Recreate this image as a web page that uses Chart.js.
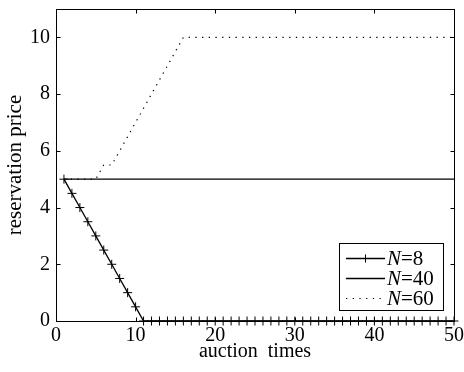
<!DOCTYPE html>
<html>
<head>
<meta charset="utf-8">
<script src="https://cdn.jsdelivr.net/npm/chart.js@4/dist/chart.umd.min.js"></script>
<style>
  html, body { margin: 0; padding: 0; background: #fff; }
  #wrap { width: 464px; height: 372px; }
</style>
</head>
<body>
<div id="wrap"><canvas id="priceChart" width="464" height="372"></canvas></div>
<script>
// auction times (x)
const auctionTimes = [1, 2, 3, 4, 5, 6, 7, 8, 9, 10, 11, 12, 13, 14, 15, 16, 17, 18, 19, 20,
    21, 22, 23, 24, 25, 26, 27, 28, 29, 30, 31, 32, 33, 34, 35, 36, 37, 38, 39, 40,
    41, 42, 43, 44, 45, 46, 47, 48, 49, 50];

// reservation price for each N
const priceN8 = [5, 4.5, 4, 3.5, 3, 2.5, 2, 1.5, 1, 0.5, 0, 0, 0, 0, 0, 0, 0, 0, 0, 0,
    0, 0, 0, 0, 0, 0, 0, 0, 0, 0, 0, 0, 0, 0, 0, 0, 0, 0, 0, 0,
    0, 0, 0, 0, 0, 0, 0, 0, 0, 0];
const priceN40 = [5, 5, 5, 5, 5, 5, 5, 5, 5, 5, 5, 5, 5, 5, 5, 5, 5, 5, 5, 5,
    5, 5, 5, 5, 5, 5, 5, 5, 5, 5, 5, 5, 5, 5, 5, 5, 5, 5, 5, 5,
    5, 5, 5, 5, 5, 5, 5, 5, 5, 5];
const priceN60 = [5, 5, 5, 5, 5, 5.5, 5.5, 6, 6.5, 7, 7.5, 8, 8.5, 9, 9.5, 10, 10, 10, 10, 10,
    10, 10, 10, 10, 10, 10, 10, 10, 10, 10, 10, 10, 10, 10, 10, 10, 10, 10, 10, 10,
    10, 10, 10, 10, 10, 10, 10, 10, 10, 10];

const xTicks = [0, 10, 20, 30, 40, 50];
const yTicks = [0, 2, 4, 6, 8, 10];
const seriesLabels = ['8', '40', '60'];

const FONT = '"Liberation Serif", "DejaVu Serif", serif';

function toPoints(values) {
    return auctionTimes.map((t, i) => ({ x: t, y: values[i] }));
}

// box around the plot, inward ticks, and the legend
const boxPlugin = {
    id: 'boxPlugin',
    afterDraw(chart) {
        const ctx = chart.ctx;
        const a = chart.chartArea;
        const xs = chart.scales.x, ys = chart.scales.y;
        const L = Math.round(a.left) + 0.5, R = Math.round(a.right) + 0.5;
        const T = Math.round(a.top) + 0.5, B = Math.round(a.bottom) + 0.5;
        const tl = 4;
        ctx.save();
        ctx.strokeStyle = '#000';
        ctx.lineWidth = 1;
        ctx.strokeRect(L, T, R - L, B - T);
        ctx.beginPath();
        xTicks.forEach(v => {
            const px = Math.round(xs.getPixelForValue(v)) + 0.5;
            ctx.moveTo(px, B); ctx.lineTo(px, B - tl);
            ctx.moveTo(px, T); ctx.lineTo(px, T + tl);
        });
        yTicks.forEach(v => {
            const py = Math.round(ys.getPixelForValue(v)) + 0.5;
            ctx.moveTo(L, py); ctx.lineTo(L + tl, py);
            ctx.moveTo(R, py); ctx.lineTo(R - tl, py);
        });
        ctx.stroke();

        // legend
        const lx = 339.5, ly = 243.5, lw = 104, lh = 67;
        ctx.fillStyle = '#fff';
        ctx.fillRect(lx, ly, lw, lh);
        ctx.strokeRect(lx, ly, lw, lh);
        const rows = [258, 278, 298];
        rows.forEach((ry, i) => {
            const y = ry + 0.5;
            ctx.beginPath();
            ctx.lineWidth = i === 2 ? 1 : 1.3;
            ctx.setLineDash(i === 2 ? [1.3, 5.4] : []);
            ctx.moveTo(346, y); ctx.lineTo(385, y);
            ctx.stroke();
            ctx.setLineDash([]);
            if (i === 0) {
                ctx.beginPath();
                ctx.lineWidth = 1;
                ctx.moveTo(365.5, y - 4); ctx.lineTo(365.5, y + 4);
                ctx.stroke();
            }
            ctx.fillStyle = '#000';
            ctx.textBaseline = 'middle';
            ctx.textAlign = 'left';
            ctx.font = 'italic 21px ' + FONT;
            ctx.fillText('N', 387, ry + 1);
            const nw = ctx.measureText('N').width;
            ctx.font = '21px ' + FONT;
            ctx.fillText('=' + seriesLabels[i], 387 + nw, ry + 1);
        });
        ctx.restore();
    }
};

document.addEventListener('DOMContentLoaded', () => {
    const ctx = document.getElementById('priceChart').getContext('2d');

    new Chart(ctx, {
        type: 'line',
        data: {
            datasets: [{
                label: 'N=8',
                data: toPoints(priceN8),
                borderColor: '#000',
                borderWidth: 1.3,
                pointStyle: 'cross',
                pointRadius: 4.5,
                pointBorderWidth: 1,
                pointBorderColor: '#000',
                clip: false,
                order: 0
            }, {
                label: 'N=40',
                data: toPoints(priceN40),
                borderColor: '#000',
                borderWidth: 1.3,
                pointRadius: 0,
                order: 1
            }, {
                label: 'N=60',
                data: toPoints(priceN60),
                borderColor: '#000',
                borderWidth: 1.2,
                borderDash: [1.3, 5.4],
                pointRadius: 0,
                order: 2
            }]
        },
        options: {
            responsive: false,
            animation: false,
            layout: { padding: { left: 0, top: 9, right: 10, bottom: 0 } },
            plugins: {
                legend: { display: false },
                tooltip: { enabled: false }
            },
            scales: {
                x: {
                    type: 'linear',
                    min: 0,
                    max: 50,
                    afterFit: s => { s.height = 51; s.paddingLeft = 0; s.paddingRight = 0; },
                    afterBuildTicks: s => { s.ticks = xTicks.map(v => ({ value: v })); },
                    grid: { display: false, drawTicks: false },
                    border: { display: false },
                    ticks: {
                        color: '#000',
                        padding: 3,
                        maxRotation: 0,
                        font: { family: FONT, size: 20 }
                    },
                    title: {
                        display: true,
                        text: 'auction  times',
                        color: '#000',
                        padding: { top: 0, bottom: 8 },
                        font: { family: FONT, size: 20 }
                    }
                },
                y: {
                    min: 0,
                    max: 11,
                    afterFit: s => { s.width = 56; s.paddingTop = 0; s.paddingBottom = 0; },
                    afterBuildTicks: s => { s.ticks = yTicks.map(v => ({ value: v })); },
                    grid: { display: false, drawTicks: false },
                    border: { display: false },
                    ticks: {
                        color: '#000',
                        padding: 6,
                        font: { family: FONT, size: 20 }
                    },
                    title: {
                        display: true,
                        text: 'reservation price',
                        color: '#000',
                        padding: { top: 3, bottom: 0 },
                        font: { family: FONT, size: 21 }
                    }
                }
            }
        },
        plugins: [boxPlugin]
    });
});
</script>
</body>
</html>
